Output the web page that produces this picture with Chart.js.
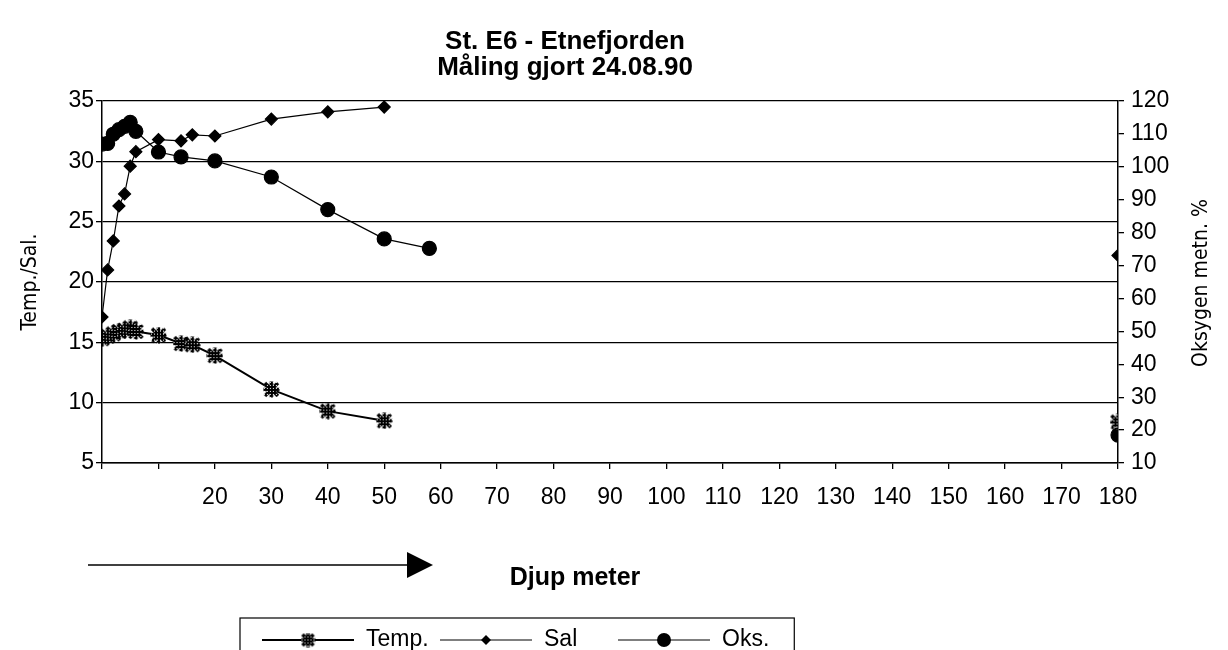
<!DOCTYPE html>
<html>
<head>
<meta charset="utf-8">
<script src="https://cdn.jsdelivr.net/npm/chart.js@4.4.1/dist/chart.umd.min.js"></script>
<style>
  html, body { margin: 0; padding: 0; background: #fff; }
  #wrap { width: 1228px; height: 650px; }
</style>
</head>
<body>
<div id="wrap"><canvas id="chart" width="1228" height="650"></canvas></div>
<script>
// Dybde (m) og målte verdier, lest av figuren
const tempDepths = [0, 1, 2, 3, 4, 5, 6, 10, 14, 16, 20, 30, 40, 50, 180];
const tempValues = [15.3, 15.5, 15.7, 15.9, 16.0, 16.2, 15.9, 15.6, 14.9, 14.8, 13.9, 11.1, 9.3, 8.5, 8.4];

const salDepths = [0, 1, 2, 3, 4, 5, 6, 10, 14, 16, 20, 30, 40, 50, 180];
const salValues = [17.1, 21.0, 23.4, 26.3, 27.3, 29.6, 30.8, 31.8, 31.7, 32.2, 32.1, 33.5, 34.1, 34.5, 22.2];

const oksDepths = [0, 1, 2, 3, 4, 5, 6, 10, 14, 20, 30, 40, 50, 58, 180];
const oksValues = [106.9, 107.1, 109.9, 111.3, 112.3, 113.5, 110.8, 104.5, 103.0, 101.8, 96.9, 87.0, 78.1, 75.2, 18.5];

// Aksetekster
const depthLabels = [20, 30, 40, 50, 60, 70, 80, 90, 100, 110, 120, 130, 140, 150, 160, 170, 180];
const seriesNames = ["Temp.", "Sal", "Oks."];
const titleLines = ["St. E6 - Etnefjorden", "Måling gjort 24.08.90"];

const FONT = "'Liberation Sans', Arial, sans-serif";
const NARROW = "'Liberation Sans Narrow', 'DejaVu Sans Condensed', 'Liberation Sans', sans-serif";

const toPoints = (xs, ys) => xs.map((x, i) => ({ x, y: ys[i] }));

// Markør for temperatur: skravert stjerne
const tempMarker = (size) => {
  const c = document.createElement("canvas");
  c.width = c.height = size;
  const g = c.getContext("2d");
  const m = size / 2;
  const r = size / 2 - 2;
  g.strokeStyle = "#000";
  g.lineWidth = 3.6;
  g.beginPath();
  g.moveTo(m - r, m - r); g.lineTo(m + r, m + r);
  g.moveTo(m + r, m - r); g.lineTo(m - r, m + r);
  g.moveTo(m, 0.5); g.lineTo(m, size - 0.5);
  g.moveTo(0.5, m); g.lineTo(size - 0.5, m);
  g.stroke();
  g.globalCompositeOperation = "source-atop";
  g.fillStyle = "#fff";
  for (let i = 1; i < size; i += 3) {
    for (let j = 1; j < size; j += 3) g.fillRect(i, j, 1, 1);
  }
  return c;
};

const tempImg = tempMarker(17);
const legendTempImg = tempMarker(15);

// Ingen linje mellom 50-60 m og 180 m
const gapSegment = {
  borderColor: (ctx) => (ctx.p1.parsed.x - ctx.p0.parsed.x > 100 ? "rgba(0,0,0,0)" : undefined),
};

const chartTop = 101;
const chartBottom = 463;

// Tittel, høyre aksetittel, pil, aksetittel og forklaring
const extras = {
  id: "extras",
  afterDraw(chart) {
    const ctx = chart.ctx;
    ctx.save();
    ctx.fillStyle = "#000";
    ctx.strokeStyle = "#000";
    ctx.textBaseline = "middle";

    // tittel
    ctx.font = "bold 26px " + FONT;
    ctx.textAlign = "center";
    ctx.fillText(titleLines[0], 565, 42);
    ctx.fillText(titleLines[1], 565, 68);

    // høyre aksetittel, leses nedenfra
    ctx.save();
    ctx.translate(1202, 283);
    ctx.rotate(-Math.PI / 2);
    ctx.font = "21px " + NARROW;
    ctx.fillText("Oksygen metn. %", 0, 0);
    ctx.restore();

    // pil
    ctx.lineWidth = 1.6;
    ctx.beginPath();
    ctx.moveTo(88, 565);
    ctx.lineTo(410, 565);
    ctx.stroke();
    ctx.beginPath();
    ctx.moveTo(407, 552);
    ctx.lineTo(433, 565);
    ctx.lineTo(407, 578);
    ctx.closePath();
    ctx.fill();

    // x-aksetittel
    ctx.font = "bold 25px " + FONT;
    ctx.fillText("Djup meter", 575, 578);

    // forklaring
    const boxLeft = 240;
    const rowY = 640;
    const symW = 92;
    const stride = 178;
    ctx.font = "23px " + FONT;
    ctx.textAlign = "left";
    let right = 0;
    chart.data.datasets.forEach((ds, i) => {
      const x0 = boxLeft + 22 + i * stride;
      const cx = x0 + symW / 2;
      ctx.lineWidth = ds.borderWidth;
      ctx.beginPath();
      ctx.moveTo(x0, rowY);
      ctx.lineTo(x0 + symW, rowY);
      ctx.stroke();
      if (i === 0) {
        ctx.drawImage(legendTempImg, cx - 7.5, rowY - 7.5);
      } else if (i === 1) {
        ctx.beginPath();
        ctx.moveTo(cx, rowY - 5); ctx.lineTo(cx + 5, rowY);
        ctx.lineTo(cx, rowY + 5); ctx.lineTo(cx - 5, rowY);
        ctx.closePath();
        ctx.fill();
      } else {
        ctx.beginPath();
        ctx.arc(cx, rowY, 7, 0, Math.PI * 2);
        ctx.fill();
      }
      const tx = x0 + symW + 12;
      ctx.fillText(ds.label, tx, rowY);
      right = tx + ctx.measureText(ds.label).width;
    });
    ctx.lineWidth = 1.2;
    ctx.strokeRect(boxLeft, 618, right + 25 - boxLeft, 50);
    ctx.restore();
  },
};

const ctx = document.getElementById("chart").getContext("2d");
new Chart(ctx, {
  type: "scatter",
  data: {
    datasets: [
      {
        label: seriesNames[0],
        data: toPoints(tempDepths, tempValues),
        yAxisID: "y",
        showLine: true,
        borderColor: "#000",
        borderWidth: 2,
        pointStyle: tempImg,
        pointRadius: 8,
        segment: gapSegment,
      },
      {
        label: seriesNames[1],
        data: toPoints(salDepths, salValues),
        yAxisID: "y",
        showLine: true,
        borderColor: "#000",
        backgroundColor: "#000",
        borderWidth: 1.2,
        pointStyle: "rectRot",
        pointRadius: 6,
        segment: gapSegment,
      },
      {
        label: seriesNames[2],
        data: toPoints(oksDepths, oksValues),
        yAxisID: "y1",
        showLine: true,
        borderColor: "#000",
        backgroundColor: "#000",
        borderWidth: 1.2,
        pointStyle: "circle",
        pointRadius: 7,
        segment: gapSegment,
      },
    ],
  },
  options: {
    responsive: false,
    animation: false,
    layout: { padding: { left: 0, right: 0, top: chartTop, bottom: 0 } },
    plugins: {
      title: { display: false },
      legend: { display: false },
      tooltip: { enabled: false },
    },
    scales: {
      x: {
        type: "linear",
        min: 0,
        max: 180,
        afterFit: (s) => { s.height = 650 - chartBottom; },
        ticks: {
          stepSize: 10,
          autoSkip: false,
          maxRotation: 0,
          padding: 15,
          color: "#000",
          font: { family: FONT, size: 23 },
          callback: (v) => (depthLabels.includes(v) ? String(v) : ""),
        },
        grid: { drawOnChartArea: false, drawTicks: true, tickLength: 6, color: "#000", lineWidth: 1.3 },
        border: { color: "#000", width: 1.5 },
      },
      y: {
        position: "left",
        min: 5,
        max: 35,
        afterFit: (s) => { s.width = 102; },
        ticks: { stepSize: 5, padding: 2, color: "#000", font: { family: FONT, size: 23 } },
        grid: { color: "#000", lineWidth: 1.3, tickLength: 6 },
        border: { color: "#000", width: 1.5 },
        title: {
          display: true,
          text: "Temp./Sal.",
          color: "#000",
          font: { family: NARROW, size: 21 },
          padding: { top: 18, bottom: 0 },
        },
      },
      y1: {
        position: "right",
        min: 10,
        max: 120,
        afterFit: (s) => { s.width = 110; },
        ticks: { stepSize: 10, padding: 7, color: "#000", font: { family: FONT, size: 23 } },
        grid: { drawOnChartArea: false, color: "#000", lineWidth: 1.3, tickLength: 6 },
        border: { color: "#000", width: 1.5 },
      },
    },
  },
  plugins: [extras],
});
</script>
</body>
</html>
